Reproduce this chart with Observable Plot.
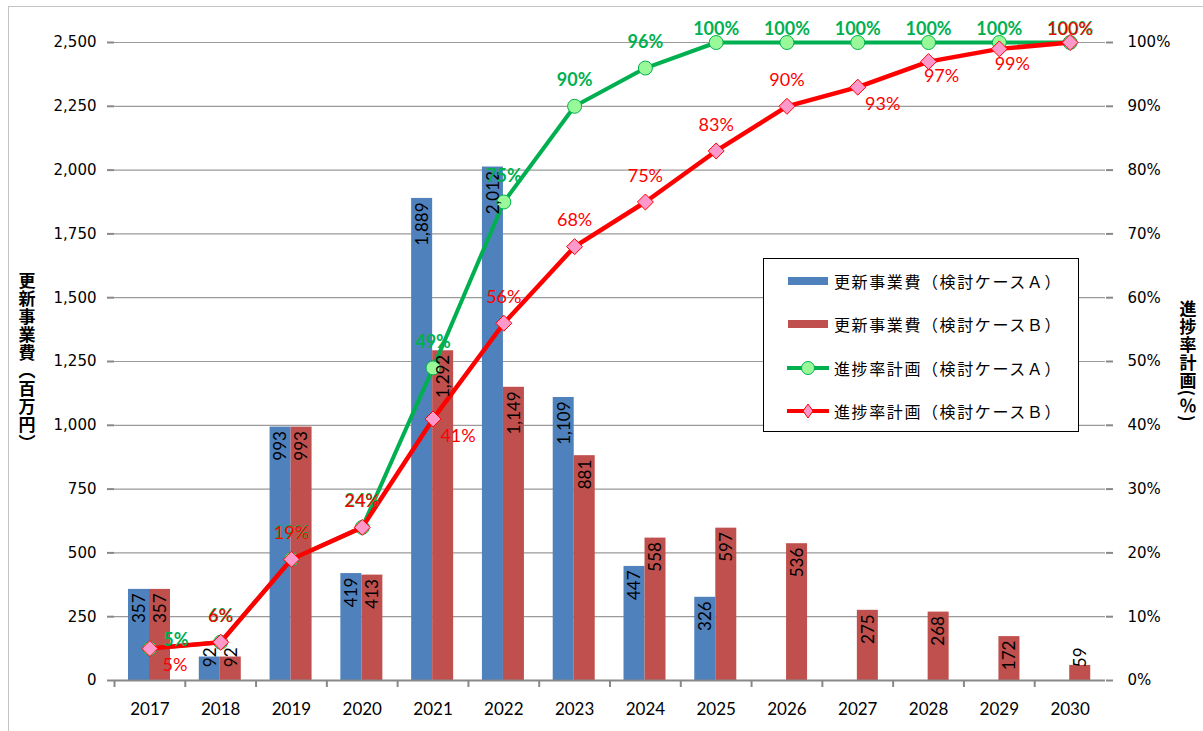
<!DOCTYPE html>
<html><head><meta charset="utf-8">
<script src="https://cdn.jsdelivr.net/npm/d3@7"></script>
<script src="https://cdn.jsdelivr.net/npm/@observablehq/plot@0.6"></script>
<style>
html,body{margin:0;padding:0;background:#fff;overflow:hidden;}
#wrap{position:relative;width:1203px;height:731px;}
#outer{position:absolute;left:8px;top:6px;width:1400px;height:900px;border:1.5px solid #c4c4c4;pointer-events:none;}
.vtitle{position:absolute;writing-mode:vertical-rl;font-family:"Noto Sans CJK JP";font-weight:bold;font-size:17px;color:#000;transform:translate(-50%,-50%);letter-spacing:1px;white-space:nowrap;}
#legend{position:absolute;left:763px;top:258px;width:314px;height:172px;border:1.5px solid #000;background:#fff;font-family:"Noto Sans CJK JP";font-size:16px;color:#000;}
#legend .row{position:absolute;left:22px;height:24px;display:flex;align-items:center;transform:translateY(-50%);}
#legend .row span{margin-left:4px;letter-spacing:1.6px;}
</style></head>
<body>
<div id="wrap"></div>
<script>
// ---- data ----
const years = ["2017","2018","2019","2020","2021","2022","2023","2024","2025","2026","2027","2028","2029","2030"];
const costA = [357, 92, 993, 419, 1889, 2012, 1109, 447, 326, null, null, null, null, null];
const costB = [357, 92, 993, 413, 1292, 1149, 881, 558, 597, 536, 275, 268, 172, 59];
const progressA = [5, 6, 19, 24, 49, 75, 90, 96, 100, 100, 100, 100, 100, 100];
const progressB = [5, 6, 19, 24, 41, 56, 68, 75, 83, 90, 93, 97, 99, 100];
const labelSideA = ["right","above","above","above","above","above","above","above","top","top","top","top","top","top"];
const labelSideB = ["belowRight","above","above","above","belowRight","above","above","above","above","above","belowRight","below","below","top"];
const leftTicks = [0, 250, 500, 750, 1000, 1250, 1500, 1750, 2000, 2250, 2500];
const rightTicks = [0, 10, 20, 30, 40, 50, 60, 70, 80, 90, 100];
const seriesNames = ["更新事業費（検討ケースＡ）","更新事業費（検討ケースＢ）","進捗率計画（検討ケースＡ）","進捗率計画（検討ケースＢ）"];
const leftTitle = "更新事業費（百万円）";
const rightTitle = "進捗率計画(％)";

// ---- styles ----
const BLUE = "#4F81BD", BRED = "#C0504D", GREEN = "#00B050", GFILL = "#99F999", RED = "#FF0000", PINK = "#FF99CC";
const W = 1203, H = 731, ML = 114, MR = 98, MT = 42, MB = 51;
const bw = (W - ML - MR) / years.length;
const scaleK = leftTicks[leftTicks.length-1] / rightTicks[rightTicks.length-1];

const rows = years.map((y, i) => ({year: y, a: costA[i], b: costB[i], pa: progressA[i], pb: progressB[i], sa: labelSideA[i], sb: labelSideB[i]}));
const fmt = d3.format(",");
const offs = {above: [0, -26], top: [0, -13], right: [26, -8], belowRight: [25, 17], below: [13, 15]};

function pctLabels(key, side, color, weight) {
  return Object.keys(offs).map(s => Plot.text(rows.filter(d => d[side] === s), {
    x: "year", y: d => d[key] * scaleK, text: d => d[key] + "%",
    dx: offs[s][0], dy: offs[s][1], fill: color, fontWeight: weight,
    fontSize: 18, fontFamily: "Lato"
  }));
}
function barLabels(key, dx) {
  return Plot.text(rows.filter(d => d[key] != null), {
    x: "year", y: d => Math.max(d[key], 145), text: d => fmt(d[key]),
    rotate: -90, textAnchor: "end", dx, dy: 4, fill: "#000",
    fontSize: 17, fontFamily: "Lato"
  });
}

const chart = Plot.plot({
  width: W, height: H,
  marginLeft: ML, marginRight: MR, marginTop: MT, marginBottom: MB,
  style: {background: "#fff", fontFamily: "Lato", color: "#000", overflow: "visible"},
  x: {type: "band", domain: years, padding: 0, round: false, axis: null},
  y: {domain: [0, 2500], axis: null},
  marks: [
    Plot.gridY(leftTicks, {stroke: "#9a9a9a", strokeOpacity: 1, strokeWidth: 1.2}),
    Plot.axisY({anchor: "left", ticks: leftTicks, tickFormat: fmt, tickSize: 7, tickPadding: 11,
      fontSize: 15, fontFamily: "DejaVu Sans", stroke: "#888", strokeWidth: 2, label: null, line: true}),
    Plot.axisY({anchor: "right", ticks: leftTicks, tickFormat: (d, i) => rightTicks[i] + "%", tickSize: 7, tickPadding: 15,
      fontSize: 15, fontFamily: "DejaVu Sans", stroke: "#888", strokeWidth: 2, label: null, line: true}),
    Plot.axisX({ticks: years, tickSize: 7, text: null, dx: -bw/2, stroke: "#888", strokeWidth: 2, label: null}),
    Plot.axisX({ticks: years, tickSize: 0, tickPadding: 22, fontSize: 17, fontFamily: "Lato", label: null}),
    Plot.barY(rows.filter(d => d.a != null), {x: "year", y: "a", fill: BLUE, insetLeft: 14, insetRight: bw - 35}),
    Plot.barY(rows, {x: "year", y: "b", fill: BRED, insetLeft: 35, insetRight: bw - 56}),
    Plot.ruleY([0], {stroke: "#888", strokeWidth: 2}),
    Plot.line(rows, {x: "year", y: d => d.pa * scaleK, stroke: GREEN, strokeWidth: 4}),
    Plot.dot(rows, {x: "year", y: d => d.pa * scaleK, r: 7, fill: GFILL, stroke: GREEN, strokeWidth: 1}),
    Plot.line(rows, {x: "year", y: d => d.pb * scaleK, stroke: RED, strokeWidth: 4.5}),
    Plot.dot(rows, {x: "year", y: d => d.pb * scaleK, r: 7.2, symbol: "diamond2", fill: PINK, stroke: RED, strokeWidth: 1}),
    barLabels("a", -10.5),
    barLabels("b", 10.5),
    ...pctLabels("pa", "sa", GREEN, "bold"),
    ...pctLabels("pb", "sb", RED, "normal")
  ]
});

const wrap = document.getElementById("wrap");
wrap.appendChild(chart);

const outer = document.createElement("div"); outer.id = "outer"; wrap.appendChild(outer);

function vt(text, x, y) {
  const d = document.createElement("div"); d.className = "vtitle"; d.textContent = text;
  d.style.left = x + "px"; d.style.top = y + "px"; wrap.appendChild(d);
}
vt(leftTitle, 27, 362);
vt(rightTitle, 1188, 361);

const lg = document.createElement("div"); lg.id = "legend";
const swatches = [
  `<rect x="2" y="6" width="40" height="8" fill="${BLUE}"/>`,
  `<rect x="2" y="6" width="40" height="8" fill="${BRED}"/>`,
  `<line x1="1" y1="10" x2="43" y2="10" stroke="${GREEN}" stroke-width="4"/><circle cx="22" cy="10" r="6.5" fill="${GFILL}" stroke="${GREEN}"/>`,
  `<line x1="1" y1="10" x2="43" y2="10" stroke="${RED}" stroke-width="4"/><path d="M22,3 L27,10 L22,17 L17,10 Z" fill="${PINK}" stroke="${RED}"/>`
];
const rowY = [22, 65, 109, 152];
seriesNames.forEach((name, i) => {
  const r = document.createElement("div"); r.className = "row"; r.style.top = rowY[i] + "px";
  r.innerHTML = `<svg width="44" height="20">${swatches[i]}</svg><span>${name}</span>`;
  lg.appendChild(r);
});
wrap.appendChild(lg);
</script>
</body></html>
